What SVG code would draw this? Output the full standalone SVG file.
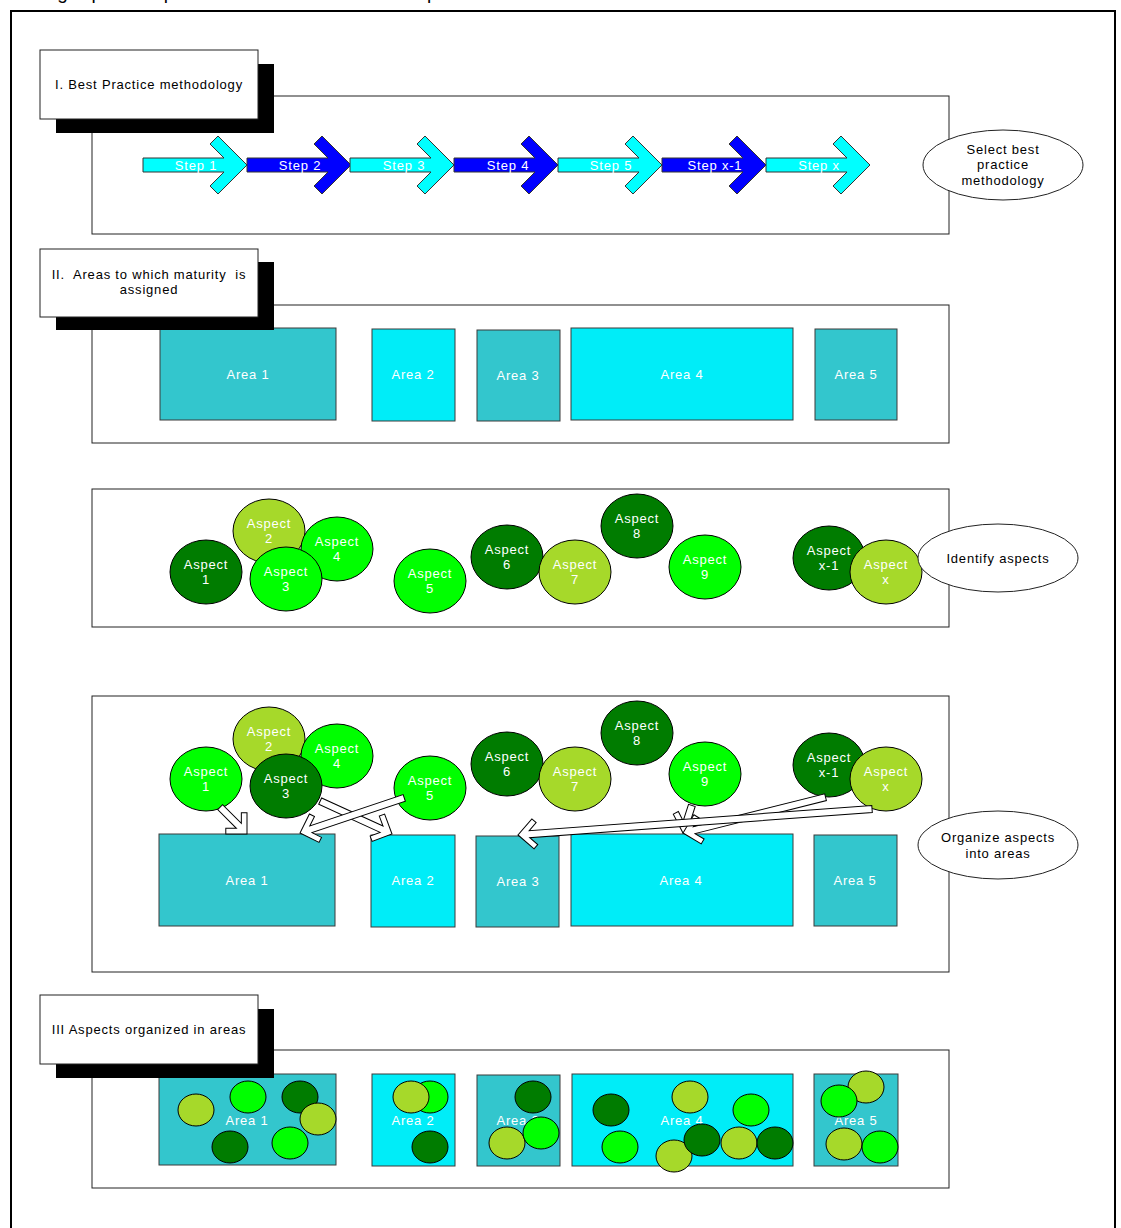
<svg xmlns="http://www.w3.org/2000/svg" xmlns:xlink="http://www.w3.org/1999/xlink" width="1121" height="1228" viewBox="0 0 1121 1228">
  <style>
    text { font-family: "Liberation Sans", Arial, sans-serif; font-size: 13px; text-anchor: middle; letter-spacing: 0.8px; }
    .dark { fill: #000; }
    .light { fill: #fff; }
    .frame { fill: none; stroke: #000; stroke-width: 2; }
    .panel { fill: #fff; stroke: #222; stroke-width: 1; }
    .hdr { fill: #fff; stroke: #222; stroke-width: 1; }
    .shadow { fill: #000; }
    .teal { fill: #33C6CD; stroke: #3a3a3a; stroke-width: 1; }
    .cyan { fill: #00EDF8; stroke: #3a3a3a; stroke-width: 1; }
    .dk { fill: #007C00; stroke: #000; stroke-width: 1; }
    .yg { fill: #A6D92A; stroke: #000; stroke-width: 1; }
    .br { fill: #00FF00; stroke: #000; stroke-width: 1; }
    .oval { fill: #fff; stroke: #222; stroke-width: 1; }
    .step { stroke: #333; stroke-width: 1; }
    .arw { fill: #fff; stroke: #000; stroke-width: 1; stroke-linejoin: miter; }
  </style>
  <defs>
    <!-- chevron-headed step arrow, tip at origin pointing right -->
    <path id="stepArrow" class="step" d="M0,0 L-29,-29 L-37,-21 L-23,-7 L-104,-7 L-104,7 L-23,7 L-37,21 L-29,29 Z"/>
    <ellipse id="big" cx="0" cy="0" rx="36" ry="32"/>
    <ellipse id="dot" cx="0" cy="0" rx="18" ry="16"/>
  </defs>

  <rect width="1121" height="1228" fill="#fff"/>

  <!-- intro line, cut by the page edge -->
  <text class="dark" x="36" y="-1" textLength="624" lengthAdjust="spacing" style="font-size:19px;text-anchor:start">A graphic representation of these steps can be seen below.</text>

  <!-- outer frame -->
  <rect class="frame" x="11" y="11" width="1104" height="1240"/>

  <!-- ===== I. Best Practice methodology ===== -->
  <g id="panel-methodology">
    <rect class="panel" x="92" y="96" width="857" height="138"/>
  </g>
  <g id="header-1">
    <rect class="shadow" x="56" y="64" width="218" height="69"/>
    <rect class="hdr" x="40" y="50" width="218" height="69"/>
    <text class="dark" x="149" y="89">I. Best Practice methodology</text>
  </g>
  <g id="step-1"><use xlink:href="#stepArrow" x="247" y="165" fill="#00FFFF"/><text class="light" x="196" y="170">Step 1</text></g>
  <g id="step-2"><use xlink:href="#stepArrow" x="351" y="165" fill="#0000FF"/><text class="light" x="300" y="170">Step 2</text></g>
  <g id="step-3"><use xlink:href="#stepArrow" x="454" y="165" fill="#00FFFF"/><text class="light" x="404" y="170">Step 3</text></g>
  <g id="step-4"><use xlink:href="#stepArrow" x="558" y="165" fill="#0000FF"/><text class="light" x="508" y="170">Step 4</text></g>
  <g id="step-5"><use xlink:href="#stepArrow" x="662" y="165" fill="#00FFFF"/><text class="light" x="611" y="170">Step 5</text></g>
  <g id="step-x-1"><use xlink:href="#stepArrow" x="766" y="165" fill="#0000FF"/><text class="light" x="715" y="170">Step x-1</text></g>
  <g id="step-x"><use xlink:href="#stepArrow" x="870" y="165" fill="#00FFFF"/><text class="light" x="819" y="170">Step x</text></g>
  <g id="note-select">
    <ellipse class="oval" cx="1003" cy="165" rx="80" ry="35"/>
    <text class="dark" x="1003" y="154">Select best</text>
    <text class="dark" x="1003" y="169">practice</text>
    <text class="dark" x="1003" y="185">methodology</text>
  </g>

  <!-- ===== II. Areas ===== -->
  <g id="panel-areas">
    <rect class="panel" x="92" y="305" width="857" height="138"/>
  </g>
  <g id="areas-row">
    <rect class="teal" x="160" y="328" width="176" height="92"/><text class="light" x="248" y="379">Area 1</text>
    <rect class="cyan" x="372" y="329" width="83" height="92"/><text class="light" x="413" y="379">Area 2</text>
    <rect class="teal" x="477" y="330" width="83" height="91"/><text class="light" x="518" y="380">Area 3</text>
    <rect class="cyan" x="571" y="328" width="222" height="92"/><text class="light" x="682" y="379">Area 4</text>
    <rect class="teal" x="815" y="329" width="82" height="91"/><text class="light" x="856" y="379">Area 5</text>
  </g>
  <g id="header-2">
    <rect class="shadow" x="56" y="262" width="218" height="68"/>
    <rect class="hdr" x="40" y="249" width="218" height="68"/>
    <text class="dark" x="149" y="279" xml:space="preserve">II.  Areas to which maturity  is</text>
    <text class="dark" x="149" y="294">assigned</text>
  </g>

  <!-- ===== Identify aspects ===== -->
  <g id="panel-aspects">
    <rect class="panel" x="92" y="489" width="857" height="138"/>
  </g>
  <g id="aspects-loose">
    <g id="a2"><use xlink:href="#big" class="yg" x="269" y="531"/><text class="light" x="269" y="528">Aspect</text><text class="light" x="269" y="543">2</text></g>
    <g id="a4"><use xlink:href="#big" class="br" x="337" y="549"/><text class="light" x="337" y="546">Aspect</text><text class="light" x="337" y="561">4</text></g>
    <g id="a1"><use xlink:href="#big" class="dk" x="206" y="572"/><text class="light" x="206" y="569">Aspect</text><text class="light" x="206" y="584">1</text></g>
    <g id="a3"><use xlink:href="#big" class="br" x="286" y="579"/><text class="light" x="286" y="576">Aspect</text><text class="light" x="286" y="591">3</text></g>
    <g id="a5"><use xlink:href="#big" class="br" x="430" y="581"/><text class="light" x="430" y="578">Aspect</text><text class="light" x="430" y="593">5</text></g>
    <g id="a6"><use xlink:href="#big" class="dk" x="507" y="557"/><text class="light" x="507" y="554">Aspect</text><text class="light" x="507" y="569">6</text></g>
    <g id="a7"><use xlink:href="#big" class="yg" x="575" y="572"/><text class="light" x="575" y="569">Aspect</text><text class="light" x="575" y="584">7</text></g>
    <g id="a8"><use xlink:href="#big" class="dk" x="637" y="526"/><text class="light" x="637" y="523">Aspect</text><text class="light" x="637" y="538">8</text></g>
    <g id="a9"><use xlink:href="#big" class="br" x="705" y="567"/><text class="light" x="705" y="564">Aspect</text><text class="light" x="705" y="579">9</text></g>
    <g id="ax1"><use xlink:href="#big" class="dk" x="829" y="558"/><text class="light" x="829" y="555">Aspect</text><text class="light" x="829" y="570">x-1</text></g>
    <g id="ax"><use xlink:href="#big" class="yg" x="886" y="572"/><text class="light" x="886" y="569">Aspect</text><text class="light" x="886" y="584">x</text></g>
  </g>
  <g id="note-identify">
    <ellipse class="oval" cx="998" cy="558" rx="80" ry="34"/>
    <text class="dark" x="998" y="563">Identify aspects</text>
  </g>

  <!-- ===== Organize aspects into areas ===== -->
  <g id="panel-organize">
    <rect class="panel" x="92" y="696" width="857" height="276"/>
  </g>
  <g id="areas-target">
    <rect class="teal" x="159" y="834" width="176" height="92"/><text class="light" x="247" y="885">Area 1</text>
    <rect class="cyan" x="371" y="835" width="84" height="92"/><text class="light" x="413" y="885">Area 2</text>
    <rect class="teal" x="476" y="836" width="83" height="91"/><text class="light" x="518" y="886">Area 3</text>
    <rect class="cyan" x="571" y="834" width="222" height="92"/><text class="light" x="681" y="885">Area 4</text>
    <rect class="teal" x="814" y="835" width="83" height="91"/><text class="light" x="855" y="885">Area 5</text>
  </g>
  <g id="aspects-sorting">
    <g id="b2"><use xlink:href="#big" class="yg" x="269" y="739"/><text class="light" x="269" y="736">Aspect</text><text class="light" x="269" y="751">2</text></g>
    <g id="b4"><use xlink:href="#big" class="br" x="337" y="756"/><text class="light" x="337" y="753">Aspect</text><text class="light" x="337" y="768">4</text></g>
    <g id="b1"><use xlink:href="#big" class="br" x="206" y="779"/><text class="light" x="206" y="776">Aspect</text><text class="light" x="206" y="791">1</text></g>
    <g id="b3"><use xlink:href="#big" class="dk" x="286" y="786"/><text class="light" x="286" y="783">Aspect</text><text class="light" x="286" y="798">3</text></g>
    <g id="b5"><use xlink:href="#big" class="br" x="430" y="788"/><text class="light" x="430" y="785">Aspect</text><text class="light" x="430" y="800">5</text></g>
    <g id="b6"><use xlink:href="#big" class="dk" x="507" y="764"/><text class="light" x="507" y="761">Aspect</text><text class="light" x="507" y="776">6</text></g>
    <g id="b7"><use xlink:href="#big" class="yg" x="575" y="779"/><text class="light" x="575" y="776">Aspect</text><text class="light" x="575" y="791">7</text></g>
    <g id="b8"><use xlink:href="#big" class="dk" x="637" y="733"/><text class="light" x="637" y="730">Aspect</text><text class="light" x="637" y="745">8</text></g>
    <g id="b9"><use xlink:href="#big" class="br" x="705" y="774"/><text class="light" x="705" y="771">Aspect</text><text class="light" x="705" y="786">9</text></g>
    <g id="bx1"><use xlink:href="#big" class="dk" x="829" y="765"/><text class="light" x="829" y="762">Aspect</text><text class="light" x="829" y="777">x-1</text></g>
    <g id="bx"><use xlink:href="#big" class="yg" x="886" y="779"/><text class="light" x="886" y="776">Aspect</text><text class="light" x="886" y="791">x</text></g>
  </g>
  <!-- block arrows: tip at origin, pointing along +x; shaft length per arrow -->
  <g id="connectors">
    <path class="arw" transform="translate(392,834) rotate(24.6)" d="M0,0 L-15,-15 L-19,-11 L-11.5,-3.5 L-79,-3.5 L-79,3.5 L-11.5,3.5 L-19,11 L-15,15 Z"/>
    <path class="arw" transform="translate(300,833) rotate(161.4)" d="M0,0 L-15,-15 L-19,-11 L-11.5,-3.5 L-110,-3.5 L-110,3.5 L-11.5,3.5 L-19,11 L-15,15 Z"/>
    <path class="arw" transform="translate(247,834) rotate(45)" d="M0,0 L-15,-15 L-19,-11 L-11.5,-3.5 L-38,-3.5 L-38,3.5 L-11.5,3.5 L-19,11 L-15,15 Z"/>
    <path class="arw" transform="translate(683,833) rotate(107.8)" d="M0,0 L-15,-15 L-19,-11 L-11.5,-3.5 L-29,-3.5 L-29,3.5 L-11.5,3.5 L-19,11 L-15,15 Z"/>
    <path class="arw" transform="translate(683,833) rotate(165.9)" d="M0,0 L-15,-15 L-19,-11 L-11.5,-3.5 L-147,-3.5 L-147,3.5 L-11.5,3.5 L-19,11 L-15,15 Z"/>
    <path class="arw" transform="translate(518,835) rotate(175.8)" d="M0,0 L-15,-15 L-19,-11 L-11.5,-3.5 L-355,-3.5 L-355,3.5 L-11.5,3.5 L-19,11 L-15,15 Z"/>
  </g>
  <g id="note-organize">
    <ellipse class="oval" cx="998" cy="845" rx="80" ry="34"/>
    <text class="dark" x="998" y="842">Organize aspects</text>
    <text class="dark" x="998" y="858">into areas</text>
  </g>

  <!-- ===== III Aspects organized in areas ===== -->
  <g id="panel-organized">
    <rect class="panel" x="92" y="1050" width="857" height="138"/>
  </g>
  <g id="area-1-filled">
    <rect class="teal" x="159" y="1074" width="177" height="91"/><text class="light" x="247" y="1125">Area 1</text>
    <use xlink:href="#dot" class="yg" x="196" y="1110"/>
    <use xlink:href="#dot" class="br" x="248" y="1097"/>
    <use xlink:href="#dot" class="dk" x="300" y="1097"/>
    <use xlink:href="#dot" class="yg" x="318" y="1119"/>
    <use xlink:href="#dot" class="dk" x="230" y="1147"/>
    <use xlink:href="#dot" class="br" x="290" y="1143"/>
  </g>
  <g id="area-2-filled">
    <rect class="cyan" x="372" y="1074" width="83" height="92"/><text class="light" x="413" y="1125">Area 2</text>
    <use xlink:href="#dot" class="br" x="430" y="1097"/>
    <use xlink:href="#dot" class="yg" x="411" y="1097"/>
    <use xlink:href="#dot" class="dk" x="430" y="1147"/>
  </g>
  <g id="area-3-filled">
    <rect class="teal" x="477" y="1075" width="83" height="91"/><text class="light" x="518" y="1125">Area 3</text>
    <use xlink:href="#dot" class="dk" x="533" y="1097"/>
    <use xlink:href="#dot" class="yg" x="507" y="1143"/>
    <use xlink:href="#dot" class="br" x="541" y="1133"/>
  </g>
  <g id="area-4-filled">
    <rect class="cyan" x="572" y="1074" width="221" height="92"/><text class="light" x="682" y="1125">Area 4</text>
    <use xlink:href="#dot" class="dk" x="611" y="1110"/>
    <use xlink:href="#dot" class="yg" x="690" y="1097"/>
    <use xlink:href="#dot" class="br" x="751" y="1110"/>
    <use xlink:href="#dot" class="br" x="620" y="1147"/>
    <use xlink:href="#dot" class="yg" x="674" y="1156"/>
    <use xlink:href="#dot" class="dk" x="702" y="1140"/>
    <use xlink:href="#dot" class="yg" x="739" y="1143"/>
    <use xlink:href="#dot" class="dk" x="775" y="1143"/>
  </g>
  <g id="area-5-filled">
    <rect class="teal" x="814" y="1074" width="84" height="92"/><text class="light" x="856" y="1125">Area 5</text>
    <use xlink:href="#dot" class="yg" x="866" y="1087"/>
    <use xlink:href="#dot" class="br" x="839" y="1101"/>
    <use xlink:href="#dot" class="yg" x="844" y="1144"/>
    <use xlink:href="#dot" class="br" x="880" y="1147"/>
  </g>
  <g id="header-3">
    <rect class="shadow" x="56" y="1009" width="218" height="69"/>
    <rect class="hdr" x="40" y="995" width="218" height="69"/>
    <text class="dark" x="149" y="1034">III Aspects organized in areas</text>
  </g>
</svg>
